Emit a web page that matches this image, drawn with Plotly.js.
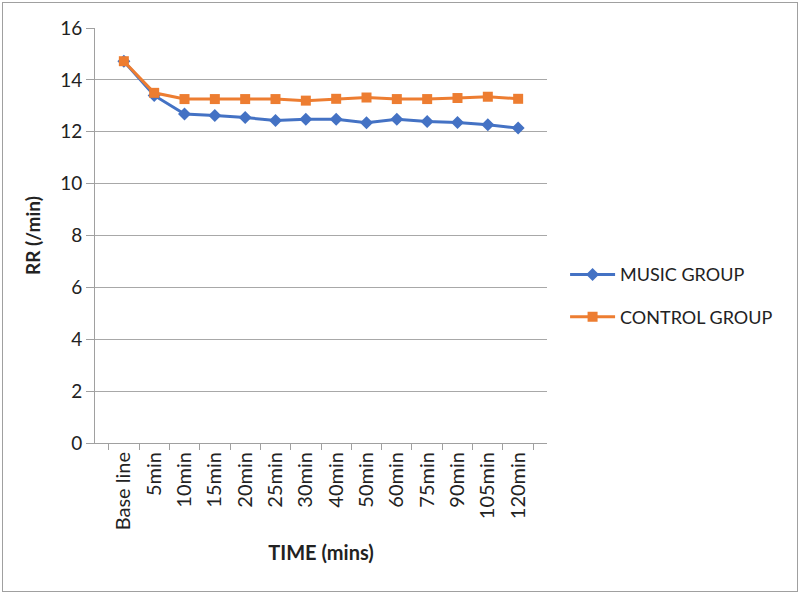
<!DOCTYPE html>
<html><head><meta charset="utf-8">
<script src="https://cdn.plot.ly/plotly-3.0.1.min.js"></script>
<style>body{margin:0;padding:0;background:#fff}#wrap{position:relative;width:800px;height:594px}
#frame{position:absolute;left:2px;top:2px;width:794px;height:588px;border:1px solid #a0a0a0;pointer-events:none}</style>
</head><body><div id="wrap"><div id="chart" style="width:800px;height:594px"></div><div id="frame"></div></div>
<script>
const categories = ["Base line","5min","10min","15min","20min","25min","30min","40min","50min","60min","75min","90min","105min","120min"];
const musicGroup = [14.72,13.40,12.68,12.63,12.55,12.43,12.48,12.48,12.35,12.48,12.40,12.36,12.27,12.14];
const controlGroup = [14.72,13.50,13.26,13.26,13.26,13.26,13.20,13.27,13.32,13.26,13.26,13.30,13.35,13.27];
const yTicks = [0,2,4,6,8,10,12,14,16];

const font = "Lato, 'Open Sans', sans-serif";
const traces = [
  {x: categories, y: musicGroup, name: "MUSIC GROUP", legendgroup: "a", type: "scatter", mode: "lines+markers",
   line: {color: "#4472C4", width: 3}, marker: {symbol: "diamond", size: 10, color: "#4472C4"}},
  {x: categories, y: controlGroup, name: "CONTROL GROUP", legendgroup: "b", type: "scatter", mode: "lines+markers",
   line: {color: "#ED7D31", width: 3}, marker: {symbol: "square", size: 10, color: "#ED7D31"}}
];
const layout = {
  width: 800, height: 594,
  margin: {l: 95, r: 253, t: 28, b: 151},
  paper_bgcolor: "#fff", plot_bgcolor: "#fff",
  font: {family: font, color: "#404040"},
  showlegend: true,
  legend: {x: 1.04, y: 0.45, xanchor: "left", yanchor: "top", font: {size: 18, color: "#222"},
           tracegroupgap: 16, itemwidth: 45},
  xaxis: {type: "category", tickangle: -90, tickson: "boundaries", ticks: "outside", ticklen: 6,
          tickcolor: "#a0a0a0", showline: true, linecolor: "#a0a0a0", linewidth: 1, showgrid: false,
          tickfont: {size: 20, color: "#222"},
          title: {text: "<b>TIME (mins)</b>", font: {size: 20, color: "#222"}, standoff: 16}},
  yaxis: {range: [0, 16], tickvals: yTicks, ticks: "outside", ticklen: 8, tickcolor: "#a0a0a0",
          showline: true, linecolor: "#a0a0a0", gridcolor: "#a8a8a8", zeroline: false,
          tickfont: {size: 19, color: "#222"},
          title: {text: "<b>RR (/min)</b>", font: {size: 19, color: "#222"}, standoff: 14}}
};
Plotly.newPlot("chart", traces, layout, {displayModeBar: false, staticPlot: true});
</script></body></html>
